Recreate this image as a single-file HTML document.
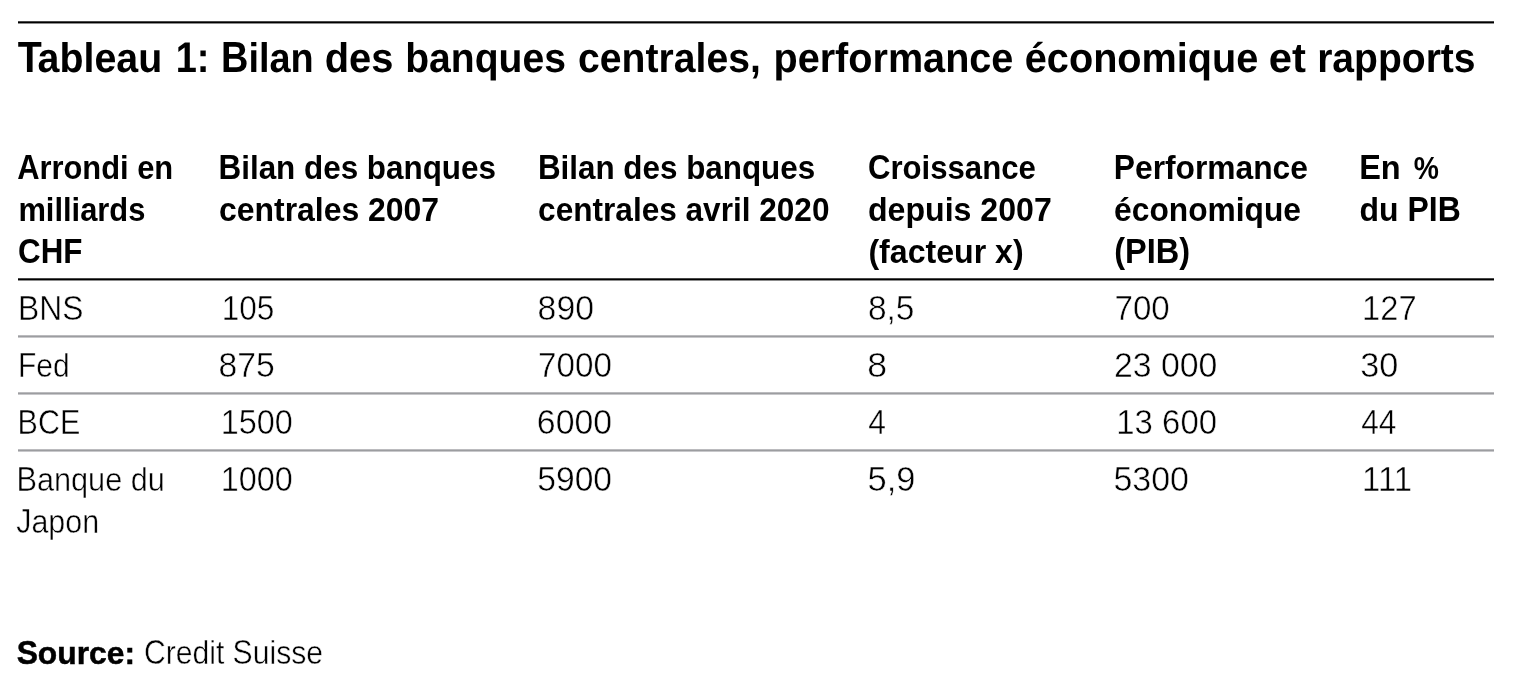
<!DOCTYPE html>
<html lang="fr">
<head>
<meta charset="utf-8">
<title>Tableau 1: Bilan des banques centrales, performance économique et rapports</title>
<style>
html,body{margin:0;padding:0;background:#fff;}
body{width:1537px;height:675px;position:relative;overflow:hidden;font-family:"Liberation Sans",Arial,Helvetica,sans-serif;color:#000;}
.sheet{position:absolute;left:0;top:0;width:1537px;height:675px;}
.toprule{position:absolute;left:18px;top:21px;width:1476px;height:3px;background:linear-gradient(to bottom,#484848 0,#484848 1px,#000 1px,#000 2px,#8c8c8c 2px,#8c8c8c 3px);}
h1{position:absolute;left:18px;top:33px;margin:0;font-size:40px;line-height:52px;font-weight:700;white-space:nowrap;text-rendering:geometricPrecision;}
h1 .l{display:inline-block;height:52px;transform-origin:0 40px;}
table{position:absolute;left:18px;top:139px;width:1476px;border-collapse:separate;border-spacing:0;table-layout:fixed;font-size:32px;line-height:42px;}
th,td{padding:0;margin:0;text-align:left;vertical-align:top;font-weight:400;white-space:nowrap;overflow:visible;background-repeat:no-repeat;background-position:left bottom;background-size:100% 3px;}
th{font-weight:700;height:134px;padding:8px 0 0 0;background-image:linear-gradient(to bottom,#484848 0,#484848 1px,#000 1px,#000 2px,#8c8c8c 2px,#8c8c8c 3px);}
td{height:50px;padding:7px 0 0 0;background-image:linear-gradient(to bottom,#bbbbbe 0,#bbbbbe 1px,#9c9da0 1px,#9c9da0 2px,#c8c8cb 2px,#c8c8cb 3px);}
tbody tr:last-child td{background-image:none;height:92px;}
.l{display:block;height:42px;width:max-content;transform-origin:0 32px;white-space:pre;}
.c{display:inline-block;height:42px;transform-origin:0 32px;}
h1 .c{height:52px;transform-origin:0 40px;}
.src{position:absolute;left:18px;top:632px;margin:0;font-size:32px;line-height:42px;white-space:nowrap;display:flex;}
.src b{font-weight:700;margin-right:12px;}
td .l,.src>.l{-webkit-text-stroke:0.45px #fff;}
.src b .l{-webkit-text-stroke:0.5px #000;}
</style>
</head>
<body>
<div class="sheet">
<div class="toprule"></div>
<h1><span class="l" id="t0" style="transform:translate(-0.20px,-0.25px) scale(0.9838,1.035)"><span class="c" style="margin-right:-0.11em;transform:scaleY(1.0531);">T</span>ableau</span> <span class="l" id="t1" style="transform:translate(-0.32px,-0.25px) scale(0.9488,1.035)"><span class="c" style="transform:scaleY(1.0338);">1:</span></span> <span class="l" id="t2" style="transform:translate(-1.98px,-0.25px) scale(0.9472,1.035)"><span class="c" style="transform:scaleY(1.0531);">B</span>ilan</span> <span class="l" id="t3" style="transform:translate(-7.35px,-0.25px) scale(0.9957,1.035)">des</span> <span class="l" id="t4" style="transform:translate(-6.76px,-0.25px) scale(0.9772,1.035)">banques</span> <span class="l" id="t5" style="transform:translate(-8.88px,-0.25px) scale(0.9778,1.035)">centrales,</span> <span class="l" id="t6" style="transform:translate(-11.52px,-0.25px) scale(0.9900,1.035)">performance</span> <span class="l" id="t7" style="transform:translate(-14.18px,-0.25px) scale(0.9911,1.035)">économique</span> <span class="l" id="t8" style="transform:translate(-16.19px,-0.25px) scale(1.0436,1.035)">et</span> <span class="l" id="t9" style="transform:translate(-14.83px,-0.25px) scale(0.9763,1.035)">rapports</span></h1>
<table>
<colgroup><col style="width:201px"><col style="width:319px"><col style="width:330px"><col style="width:246px"><col style="width:246px"><col style="width:134px"></colgroup>
<thead>
<tr>
<th><span class="l" id="h0a" style="transform:translate(-0.82px,-0.25px) scale(0.9644,1.035)"><span class="c" style="transform:scaleY(1.0435);">A</span>rrondi en</span><span class="l" id="h0b" style="transform:translate(0.38px,-0.25px) scale(0.9646,1.035)">milliards</span><span class="l" id="h0c" style="transform:translate(0.04px,-0.25px) scale(0.9790,1.035)"><span class="c" style="transform:scaleY(1.0435);">CHF</span></span></th>
<th><span class="l" id="h1a" style="transform:translate(-0.50px,-0.25px) scale(0.9813,1.035)"><span class="c" style="transform:scaleY(1.0435);">B</span>ilan des banques</span><span class="l" id="h1b" style="transform:translate(-0.02px,-0.25px) scale(0.9977,1.035)">centrales 2007</span></th>
<th><span class="l" id="h2a" style="transform:translate(-0.03px,-0.25px) scale(0.9802,1.035)"><span class="c" style="transform:scaleY(1.0435);">B</span>ilan des banques</span><span class="l" id="h2b" style="transform:translate(0.12px,-0.25px) scale(0.9866,1.035)">centrales avril 2020</span></th>
<th><span class="l" id="h3a" style="transform:translate(-0.02px,-0.25px) scale(0.9724,1.035)"><span class="c" style="transform:scaleY(1.0435);">C</span>roissance</span><span class="l" id="h3b" style="transform:translate(-0.05px,-0.25px) scale(1.0032,1.035)">depuis 2007</span><span class="l" id="h3c" style="transform:translate(0.41px,-0.25px) scale(1.0035,1.035)">(facteur x)</span></th>
<th><span class="l" id="h4a" style="transform:translate(-0.19px,-0.25px) scale(0.9918,1.035)"><span class="c" style="transform:scaleY(1.0435);">P</span>erformance</span><span class="l" id="h4b" style="transform:translate(0.11px,-0.25px) scale(0.9914,1.035)">économique</span><span class="l" id="h4c" style="transform:translate(0.17px,-0.25px) scale(1.0165,1.035)"><span class="c" style="transform:scaleY(1.0435);">(PIB)</span></span></th>
<th><span class="l" id="h5a" style="transform:translate(-0.85px,-0.25px) scale(1.0156,1.035)"><span class="c" style="transform:scaleY(1.0435);">E</span>n <span class="c" style="transform-origin:100% 32px;transform:scale(0.87,0.9275);">%</span></span><span class="l" id="h5b" style="transform:translate(-0.44px,-0.25px) scale(0.9984,1.035)">du <span class="c" style="transform:scaleY(1.0435);">PIB</span></span></th>
</tr>
</thead>
<tbody>
<tr>
<td><span class="l" id="r0c0" style="transform:translate(0.07px,-0.25px) scale(0.9931,1.04)"><span class="c" style="transform:scaleY(1.0385);">BNS</span></span></td>
<td><span class="l" id="r0c1" style="transform:translate(2.63px,-0.25px) scale(0.9863,1.04)"><span class="c" style="transform:scaleY(1.0385);">105</span></span></td>
<td><span class="l" id="r0c2" style="transform:translate(-0.43px,-0.25px) scale(1.0570,1.04)"><span class="c" style="transform:scaleY(1.0385);">890</span></span></td>
<td><span class="l" id="r0c3" style="transform:translate(-0.05px,-0.25px) scale(1.0461,1.04)"><span class="c" style="transform:scaleY(1.0385);">8,5</span></span></td>
<td><span class="l" id="r0c4" style="transform:translate(0.55px,-0.25px) scale(1.0343,1.04)"><span class="c" style="transform:scaleY(1.0385);">700</span></span></td>
<td><span class="l" id="r0c5" style="transform:translate(2.11px,-0.25px) scale(1.0201,1.04)"><span class="c" style="transform:scaleY(1.0385);">127</span></span></td>
</tr>
<tr>
<td><span class="l" id="r1c0" style="transform:translate(-0.06px,-0.25px) scale(0.9382,1.04)"><span class="c" style="transform:scaleY(1.0385);">F</span>ed</span></td>
<td><span class="l" id="r1c1" style="transform:translate(-0.59px,-0.25px) scale(1.0526,1.04)"><span class="c" style="transform:scaleY(1.0385);">875</span></span></td>
<td><span class="l" id="r1c2" style="transform:translate(-0.11px,-0.25px) scale(1.0393,1.04)"><span class="c" style="transform:scaleY(1.0385);">7000</span></span></td>
<td><span class="l" id="r1c3" style="transform:translate(-0.69px,-0.25px) scale(1.1136,1.04)"><span class="c" style="transform:scaleY(1.0385);">8</span></span></td>
<td><span class="l" id="r1c4" style="transform:translate(-0.10px,-0.25px) scale(1.0563,1.04)"><span class="c" style="transform:scaleY(1.0385);">23 000</span></span></td>
<td><span class="l" id="r1c5" style="transform:translate(0.15px,-0.25px) scale(1.0701,1.04)"><span class="c" style="transform:scaleY(1.0385);">30</span></span></td>
</tr>
<tr>
<td><span class="l" id="r2c0" style="transform:translate(-0.39px,-0.25px) scale(0.9524,1.04)"><span class="c" style="transform:scaleY(1.0385);">BCE</span></span></td>
<td><span class="l" id="r2c1" style="transform:translate(1.79px,-0.25px) scale(1.0106,1.04)"><span class="c" style="transform:scaleY(1.0385);">1500</span></span></td>
<td><span class="l" id="r2c2" style="transform:translate(-1.14px,-0.25px) scale(1.0563,1.04)"><span class="c" style="transform:scaleY(1.0385);">6000</span></span></td>
<td><span class="l" id="r2c3" style="transform:translate(0.32px,-0.25px) scale(0.9927,1.04)"><span class="c" style="transform:scaleY(1.0385);">4</span></span></td>
<td><span class="l" id="r2c4" style="transform:translate(2.31px,-0.25px) scale(1.0287,1.04)"><span class="c" style="transform:scaleY(1.0385);">13 600</span></span></td>
<td><span class="l" id="r2c5" style="transform:translate(1.15px,-0.25px) scale(0.9893,1.04)"><span class="c" style="transform:scaleY(1.0385);">44</span></span></td>
</tr>
<tr>
<td><span class="l" id="r3c0a" style="transform:translate(-1.55px,-0.25px) scale(0.9585,1.04)"><span class="c" style="transform:scaleY(1.0385);">B</span>anque du</span><span class="l" id="r3c0b" style="transform:translate(-1.81px,-0.25px) scale(0.9511,1.04)"><span class="c" style="transform:scaleY(1.0385);">J</span>apon</span></td>
<td><span class="l" id="r3c1" style="transform:translate(1.79px,-0.25px) scale(1.0106,1.04)"><span class="c" style="transform:scaleY(1.0385);">1000</span></span></td>
<td><span class="l" id="r3c2" style="transform:translate(-0.73px,-0.25px) scale(1.0499,1.04)"><span class="c" style="transform:scaleY(1.0385);">5900</span></span></td>
<td><span class="l" id="r3c3" style="transform:translate(-0.39px,-0.25px) scale(1.0774,1.04)"><span class="c" style="transform:scaleY(1.0385);">5,9</span></span></td>
<td><span class="l" id="r3c4" style="transform:translate(-0.61px,-0.25px) scale(1.0617,1.04)"><span class="c" style="transform:scaleY(1.0385);">5300</span></span></td>
<td><span class="l" id="r3c5" style="transform:translate(2.05px,-0.25px) scale(1.0289,1.04)"><span class="c" style="transform:scaleY(1.0385);">111</span></span></td>
</tr>
</tbody>
</table>
<p class="src"><b><span class="l" id="srcb" style="transform:translate(-1.36px,-0.25px) scale(0.9934,1.0)"><span class="c" style="transform:scaleY(1.0300);">S</span>ource:</span></b><span class="l" id="srcr" style="transform:translate(-5.09px,-0.25px) scale(0.9412,1.04)"><span class="c" style="transform:scaleY(1.0385);">C</span>redit <span class="c" style="transform:scaleY(1.0385);">S</span>uisse</span></p>
</div>
</body>
</html>
